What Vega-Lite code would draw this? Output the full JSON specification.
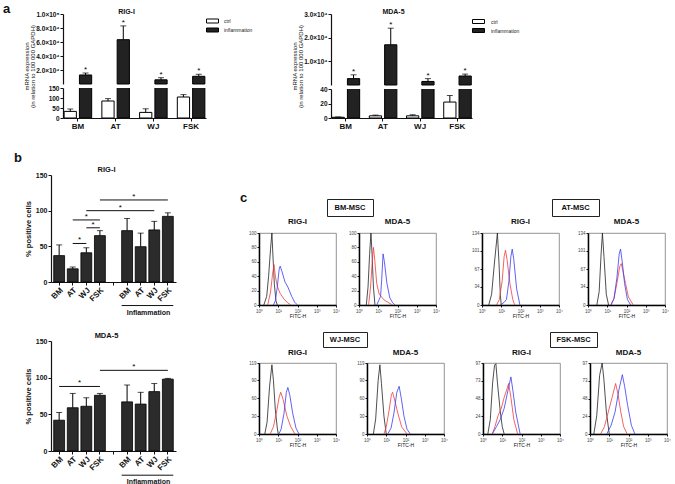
{
"$schema":"https://vega.github.io/schema/vega-lite/v6.json",
"padding":{"left":3,"top":3,"right":0,"bottom":0},
"config":{"font":"Liberation Sans","view":{"stroke":null},
 "axis":{"grid":false,"domainColor":"#111","tickColor":"#111","labelColor":"#111","titleColor":"#111","domainWidth":1.2,"tickWidth":1,"labelFont":"Liberation Sans","titleFont":"Liberation Sans"},
 "title":{"font":"Liberation Sans","fontSize":8,"fontWeight":"bold","color":"#111","baseline":"alphabetic"}},
"datasets":{
 "a_rig":[{"cell":"BM","t":"ctrl","v":33,"hi":45},{"cell":"AT","t":"ctrl","v":85,"hi":97},{"cell":"WJ","t":"ctrl","v":28,"hi":46},{"cell":"FSK","t":"ctrl","v":105,"hi":117},{"cell":"BM","t":"inflammation","v":12900,"hi":15700},{"cell":"AT","t":"inflammation","v":63300,"hi":83000},{"cell":"WJ","t":"inflammation","v":6000,"hi":9000},{"cell":"FSK","t":"inflammation","v":11000,"hi":13900}],
 "a_mda":[{"cell":"BM","t":"ctrl","v":1,"hi":1.5},{"cell":"AT","t":"ctrl","v":3,"hi":4},{"cell":"WJ","t":"ctrl","v":3,"hi":4.5},{"cell":"FSK","t":"ctrl","v":22,"hi":31},{"cell":"BM","t":"inflammation","v":2700,"hi":4300},{"cell":"AT","t":"inflammation","v":17000,"hi":24000},{"cell":"WJ","t":"inflammation","v":1500,"hi":2700},{"cell":"FSK","t":"inflammation","v":3800,"hi":4600}],
 "b_rig":[{"k":"BM","v":37,"hi":52},{"k":"AT","v":18.5,"hi":21},{"k":"WJ","v":41,"hi":48},{"k":"FSK","v":65,"hi":72},{"k":"iBM","v":72,"hi":89},{"k":"iAT","v":49.5,"hi":68.5},{"k":"iWJ","v":73,"hi":85},{"k":"iFSK","v":92,"hi":97}],
 "b_rig_sig":[{"a":"AT","b":"WJ","y":54,"m":"AT","h":true},{"a":"AT","b":"FSK","y":87,"m":"WJ","h":false},{"a":"WJ","b":"FSK","y":76,"m":"WJ","h":true},{"a":"WJ","b":"iWJ","y":100,"m":"gap","h":true},{"a":"FSK","b":"iFSK","y":115,"m":"iBM","h":true}],
 "b_mda":[{"k":"BM","v":42,"hi":52.5},{"k":"AT","v":59,"hi":78.5},{"k":"WJ","v":61,"hi":72.6},{"k":"FSK","v":76,"hi":78.5},{"k":"iBM","v":67,"hi":90},{"k":"iAT","v":64,"hi":80},{"k":"iWJ","v":81,"hi":92},{"k":"iFSK","v":98,"hi":99}],
 "b_mda_sig":[{"a":"BM","b":"FSK","y":88,"m":"AT","h":true},{"a":"FSK","b":"iFSK","y":110,"m":"iBM","h":true}],
 "infl_line":[{"a":"iBM","b":"iFSK"}],
 "boxes":[{"t":"BM-MSC"},{"t":"AT-MSC"},{"t":"WJ-MSC"},{"t":"FSK-MSC"}],
 "hist":[
{"c":"BM","g":"R","s":"iso","x":1.78,"y":0},{"c":"BM","g":"R","s":"iso","x":2.51,"y":12},{"c":"BM","g":"R","s":"iso","x":3.16,"y":40},{"c":"BM","g":"R","s":"iso","x":3.98,"y":78},{"c":"BM","g":"R","s":"iso","x":4.68,"y":100},{"c":"BM","g":"R","s":"iso","x":5.37,"y":65},{"c":"BM","g":"R","s":"iso","x":6.31,"y":28},{"c":"BM","g":"R","s":"iso","x":7.59,"y":6},{"c":"BM","g":"R","s":"iso","x":8.91,"y":0},
{"c":"BM","g":"R","s":"ctrl","x":2.82,"y":0},{"c":"BM","g":"R","s":"ctrl","x":3.98,"y":18},{"c":"BM","g":"R","s":"ctrl","x":5.01,"y":42},{"c":"BM","g":"R","s":"ctrl","x":6.03,"y":56},{"c":"BM","g":"R","s":"ctrl","x":7.08,"y":40},{"c":"BM","g":"R","s":"ctrl","x":8.91,"y":26},{"c":"BM","g":"R","s":"ctrl","x":12.6,"y":16},{"c":"BM","g":"R","s":"ctrl","x":20,"y":8},{"c":"BM","g":"R","s":"ctrl","x":31.6,"y":3},{"c":"BM","g":"R","s":"ctrl","x":44.7,"y":0},
{"c":"BM","g":"R","s":"infl","x":5.62,"y":0},{"c":"BM","g":"R","s":"infl","x":7.08,"y":6},{"c":"BM","g":"R","s":"infl","x":8.91,"y":25},{"c":"BM","g":"R","s":"infl","x":11.2,"y":50},{"c":"BM","g":"R","s":"infl","x":12.6,"y":54},{"c":"BM","g":"R","s":"infl","x":15.8,"y":46},{"c":"BM","g":"R","s":"infl","x":22.4,"y":32},{"c":"BM","g":"R","s":"infl","x":31.6,"y":25},{"c":"BM","g":"R","s":"infl","x":50.1,"y":12},{"c":"BM","g":"R","s":"infl","x":70.8,"y":4},{"c":"BM","g":"R","s":"infl","x":100,"y":0},
{"c":"BM","g":"M","s":"iso","x":2.4,"y":0},{"c":"BM","g":"M","s":"iso","x":2.95,"y":25},{"c":"BM","g":"M","s":"iso","x":3.55,"y":70},{"c":"BM","g":"M","s":"iso","x":4.17,"y":100},{"c":"BM","g":"M","s":"iso","x":4.79,"y":70},{"c":"BM","g":"M","s":"iso","x":5.62,"y":25},{"c":"BM","g":"M","s":"iso","x":6.76,"y":0},
{"c":"BM","g":"M","s":"ctrl","x":3.16,"y":0},{"c":"BM","g":"M","s":"ctrl","x":3.98,"y":25},{"c":"BM","g":"M","s":"ctrl","x":5.01,"y":65},{"c":"BM","g":"M","s":"ctrl","x":5.62,"y":80},{"c":"BM","g":"M","s":"ctrl","x":6.61,"y":62},{"c":"BM","g":"M","s":"ctrl","x":8.32,"y":30},{"c":"BM","g":"M","s":"ctrl","x":11.2,"y":15},{"c":"BM","g":"M","s":"ctrl","x":20,"y":7},{"c":"BM","g":"M","s":"ctrl","x":35.5,"y":3},{"c":"BM","g":"M","s":"ctrl","x":56.2,"y":0},
{"c":"BM","g":"M","s":"infl","x":8.32,"y":0},{"c":"BM","g":"M","s":"infl","x":10.5,"y":6},{"c":"BM","g":"M","s":"infl","x":13.2,"y":12},{"c":"BM","g":"M","s":"infl","x":15.1,"y":35},{"c":"BM","g":"M","s":"infl","x":17.8,"y":71},{"c":"BM","g":"M","s":"infl","x":20.9,"y":60},{"c":"BM","g":"M","s":"infl","x":28.2,"y":30},{"c":"BM","g":"M","s":"infl","x":39.8,"y":10},{"c":"BM","g":"M","s":"infl","x":56.2,"y":3},{"c":"BM","g":"M","s":"infl","x":75.9,"y":0},
{"c":"AT","g":"R","s":"iso","x":2.24,"y":0},{"c":"AT","g":"R","s":"iso","x":3.16,"y":20},{"c":"AT","g":"R","s":"iso","x":4.47,"y":80},{"c":"AT","g":"R","s":"iso","x":6.31,"y":134},{"c":"AT","g":"R","s":"iso","x":7.59,"y":80},{"c":"AT","g":"R","s":"iso","x":8.91,"y":20},{"c":"AT","g":"R","s":"iso","x":10,"y":0},
{"c":"AT","g":"R","s":"ctrl","x":5.62,"y":0},{"c":"AT","g":"R","s":"ctrl","x":7.94,"y":10},{"c":"AT","g":"R","s":"ctrl","x":11.2,"y":45},{"c":"AT","g":"R","s":"ctrl","x":14.1,"y":90},{"c":"AT","g":"R","s":"ctrl","x":16.6,"y":102},{"c":"AT","g":"R","s":"ctrl","x":20,"y":85},{"c":"AT","g":"R","s":"ctrl","x":28.2,"y":40},{"c":"AT","g":"R","s":"ctrl","x":39.8,"y":10},{"c":"AT","g":"R","s":"ctrl","x":50.1,"y":0},
{"c":"AT","g":"R","s":"infl","x":9.33,"y":0},{"c":"AT","g":"R","s":"infl","x":14.1,"y":5},{"c":"AT","g":"R","s":"infl","x":18.6,"y":10},{"c":"AT","g":"R","s":"infl","x":25.1,"y":45},{"c":"AT","g":"R","s":"infl","x":31.6,"y":90},{"c":"AT","g":"R","s":"infl","x":37.2,"y":104},{"c":"AT","g":"R","s":"infl","x":44.7,"y":85},{"c":"AT","g":"R","s":"infl","x":63.1,"y":30},{"c":"AT","g":"R","s":"infl","x":93.3,"y":0},
{"c":"AT","g":"M","s":"iso","x":2.88,"y":0},{"c":"AT","g":"M","s":"iso","x":3.8,"y":25},{"c":"AT","g":"M","s":"iso","x":4.79,"y":95},{"c":"AT","g":"M","s":"iso","x":5.62,"y":134},{"c":"AT","g":"M","s":"iso","x":6.76,"y":90},{"c":"AT","g":"M","s":"iso","x":8.91,"y":20},{"c":"AT","g":"M","s":"iso","x":11.7,"y":0},
{"c":"AT","g":"M","s":"ctrl","x":15.1,"y":0},{"c":"AT","g":"M","s":"ctrl","x":22.4,"y":12},{"c":"AT","g":"M","s":"ctrl","x":31.6,"y":40},{"c":"AT","g":"M","s":"ctrl","x":44.7,"y":72},{"c":"AT","g":"M","s":"ctrl","x":53.7,"y":77},{"c":"AT","g":"M","s":"ctrl","x":66.1,"y":62},{"c":"AT","g":"M","s":"ctrl","x":89.1,"y":40},{"c":"AT","g":"M","s":"ctrl","x":126,"y":15},{"c":"AT","g":"M","s":"ctrl","x":224,"y":0},
{"c":"AT","g":"M","s":"infl","x":15.8,"y":0},{"c":"AT","g":"M","s":"infl","x":22.4,"y":12},{"c":"AT","g":"M","s":"infl","x":31.6,"y":50},{"c":"AT","g":"M","s":"infl","x":41.7,"y":95},{"c":"AT","g":"M","s":"infl","x":49,"y":104},{"c":"AT","g":"M","s":"infl","x":60.3,"y":80},{"c":"AT","g":"M","s":"infl","x":79.4,"y":40},{"c":"AT","g":"M","s":"infl","x":112,"y":10},{"c":"AT","g":"M","s":"infl","x":166,"y":0},
{"c":"WJ","g":"R","s":"iso","x":2,"y":0},{"c":"WJ","g":"R","s":"iso","x":2.63,"y":20},{"c":"WJ","g":"R","s":"iso","x":3.55,"y":80},{"c":"WJ","g":"R","s":"iso","x":4.68,"y":116},{"c":"WJ","g":"R","s":"iso","x":5.62,"y":90},{"c":"WJ","g":"R","s":"iso","x":7.08,"y":40},{"c":"WJ","g":"R","s":"iso","x":8.91,"y":10},{"c":"WJ","g":"R","s":"iso","x":10,"y":0},
{"c":"WJ","g":"R","s":"ctrl","x":3.8,"y":0},{"c":"WJ","g":"R","s":"ctrl","x":5.62,"y":12},{"c":"WJ","g":"R","s":"ctrl","x":7.94,"y":35},{"c":"WJ","g":"R","s":"ctrl","x":11.2,"y":62},{"c":"WJ","g":"R","s":"ctrl","x":13.5,"y":70},{"c":"WJ","g":"R","s":"ctrl","x":17.8,"y":58},{"c":"WJ","g":"R","s":"ctrl","x":28.2,"y":30},{"c":"WJ","g":"R","s":"ctrl","x":44.7,"y":12},{"c":"WJ","g":"R","s":"ctrl","x":74.1,"y":0},
{"c":"WJ","g":"R","s":"infl","x":10.7,"y":0},{"c":"WJ","g":"R","s":"infl","x":14.1,"y":8},{"c":"WJ","g":"R","s":"infl","x":20,"y":35},{"c":"WJ","g":"R","s":"infl","x":26.3,"y":70},{"c":"WJ","g":"R","s":"infl","x":31.6,"y":78},{"c":"WJ","g":"R","s":"infl","x":39.8,"y":65},{"c":"WJ","g":"R","s":"infl","x":56.2,"y":35},{"c":"WJ","g":"R","s":"infl","x":83.2,"y":10},{"c":"WJ","g":"R","s":"infl","x":120,"y":0},
{"c":"WJ","g":"M","s":"iso","x":2.14,"y":0},{"c":"WJ","g":"M","s":"iso","x":2.82,"y":25},{"c":"WJ","g":"M","s":"iso","x":3.8,"y":90},{"c":"WJ","g":"M","s":"iso","x":4.68,"y":116},{"c":"WJ","g":"M","s":"iso","x":5.62,"y":85},{"c":"WJ","g":"M","s":"iso","x":7.59,"y":30},{"c":"WJ","g":"M","s":"iso","x":10,"y":0},
{"c":"WJ","g":"M","s":"ctrl","x":7.59,"y":0},{"c":"WJ","g":"M","s":"ctrl","x":10,"y":12},{"c":"WJ","g":"M","s":"ctrl","x":14.1,"y":40},{"c":"WJ","g":"M","s":"ctrl","x":18.6,"y":66},{"c":"WJ","g":"M","s":"ctrl","x":21.4,"y":70},{"c":"WJ","g":"M","s":"ctrl","x":28.2,"y":55},{"c":"WJ","g":"M","s":"ctrl","x":39.8,"y":35},{"c":"WJ","g":"M","s":"ctrl","x":63.1,"y":12},{"c":"WJ","g":"M","s":"ctrl","x":120,"y":0},
{"c":"WJ","g":"M","s":"infl","x":12,"y":0},{"c":"WJ","g":"M","s":"infl","x":17.8,"y":10},{"c":"WJ","g":"M","s":"infl","x":25.1,"y":35},{"c":"WJ","g":"M","s":"infl","x":35.5,"y":70},{"c":"WJ","g":"M","s":"infl","x":46.8,"y":80},{"c":"WJ","g":"M","s":"infl","x":60.3,"y":60},{"c":"WJ","g":"M","s":"infl","x":83.2,"y":30},{"c":"WJ","g":"M","s":"infl","x":120,"y":8},{"c":"WJ","g":"M","s":"infl","x":178,"y":0},
{"c":"FSK","g":"R","s":"iso","x":1.78,"y":0},{"c":"FSK","g":"R","s":"iso","x":2.4,"y":20},{"c":"FSK","g":"R","s":"iso","x":3.16,"y":70},{"c":"FSK","g":"R","s":"iso","x":3.98,"y":94},{"c":"FSK","g":"R","s":"iso","x":4.68,"y":96},{"c":"FSK","g":"R","s":"iso","x":5.62,"y":70},{"c":"FSK","g":"R","s":"iso","x":7.94,"y":30},{"c":"FSK","g":"R","s":"iso","x":10,"y":10},{"c":"FSK","g":"R","s":"iso","x":12.6,"y":0},
{"c":"FSK","g":"R","s":"ctrl","x":3.02,"y":0},{"c":"FSK","g":"R","s":"ctrl","x":4.17,"y":10},{"c":"FSK","g":"R","s":"ctrl","x":6.03,"y":25},{"c":"FSK","g":"R","s":"ctrl","x":8.91,"y":35},{"c":"FSK","g":"R","s":"ctrl","x":12.6,"y":50},{"c":"FSK","g":"R","s":"ctrl","x":17.8,"y":62},{"c":"FSK","g":"R","s":"ctrl","x":21.4,"y":69},{"c":"FSK","g":"R","s":"ctrl","x":28.2,"y":50},{"c":"FSK","g":"R","s":"ctrl","x":39.8,"y":20},{"c":"FSK","g":"R","s":"ctrl","x":63.1,"y":0},
{"c":"FSK","g":"R","s":"infl","x":3.02,"y":0},{"c":"FSK","g":"R","s":"infl","x":5.01,"y":10},{"c":"FSK","g":"R","s":"infl","x":7.94,"y":20},{"c":"FSK","g":"R","s":"infl","x":12.6,"y":35},{"c":"FSK","g":"R","s":"infl","x":20,"y":60},{"c":"FSK","g":"R","s":"infl","x":28.2,"y":78},{"c":"FSK","g":"R","s":"infl","x":35.5,"y":60},{"c":"FSK","g":"R","s":"infl","x":50.1,"y":30},{"c":"FSK","g":"R","s":"infl","x":85.1,"y":0},
{"c":"FSK","g":"M","s":"iso","x":1.58,"y":0},{"c":"FSK","g":"M","s":"iso","x":2.24,"y":25},{"c":"FSK","g":"M","s":"iso","x":3.16,"y":80},{"c":"FSK","g":"M","s":"iso","x":4.27,"y":97},{"c":"FSK","g":"M","s":"iso","x":5.25,"y":75},{"c":"FSK","g":"M","s":"iso","x":7.08,"y":30},{"c":"FSK","g":"M","s":"iso","x":10,"y":0},
{"c":"FSK","g":"M","s":"ctrl","x":3.55,"y":0},{"c":"FSK","g":"M","s":"ctrl","x":5.62,"y":10},{"c":"FSK","g":"M","s":"ctrl","x":8.91,"y":30},{"c":"FSK","g":"M","s":"ctrl","x":14.1,"y":50},{"c":"FSK","g":"M","s":"ctrl","x":21.4,"y":69},{"c":"FSK","g":"M","s":"ctrl","x":28.2,"y":55},{"c":"FSK","g":"M","s":"ctrl","x":39.8,"y":30},{"c":"FSK","g":"M","s":"ctrl","x":56.2,"y":10},{"c":"FSK","g":"M","s":"ctrl","x":85.1,"y":0},
{"c":"FSK","g":"M","s":"infl","x":7.41,"y":0},{"c":"FSK","g":"M","s":"infl","x":12.6,"y":12},{"c":"FSK","g":"M","s":"infl","x":20,"y":30},{"c":"FSK","g":"M","s":"infl","x":31.6,"y":60},{"c":"FSK","g":"M","s":"infl","x":47.9,"y":81},{"c":"FSK","g":"M","s":"infl","x":63.1,"y":65},{"c":"FSK","g":"M","s":"infl","x":89.1,"y":40},{"c":"FSK","g":"M","s":"infl","x":141,"y":12},{"c":"FSK","g":"M","s":"infl","x":214,"y":0}
 ]},
"spacing":21,
"vconcat":[
 {"hconcat":[
   {"width":10,"height":1,"data":{"values":[]},"mark":"point"},
   {"vconcat":[
     {"width":143,"height":70,"title":{"text":"RIG-I","fontSize":7,"offset":-4,"dx":-8},
      "data":{"name":"a_rig"},"transform":[{"filter":"datum.t == 'inflammation'"}],
      "resolve":{"axis":{"y":"independent"}},
      "encoding":{"x":{"field":"cell","type":"nominal","scale":{"domain":["BM","AT","WJ","FSK"],"paddingInner":0.27,"paddingOuter":0.03},"axis":null},
        "xOffset":{"field":"t","type":"nominal","scale":{"domain":["ctrl","inflammation"],"paddingInner":0.2}}},
      "layer":[
       {"mark":{"type":"bar","fill":"#222","stroke":"#000","strokeWidth":1},
        "encoding":{"y":{"field":"v","type":"quantitative","scale":{"domain":[0,100000],"nice":false},
          "axis":{"values":[20000,40000,60000,80000,100000],"labelExpr":"datum.value == 100000 ? '1.0×10⁵' : format(datum.value/10000, '.1f') + '×10⁴'","labelFontSize":6.5,"labelFontWeight":"bold","tickSize":3,"labelPadding":1,"labelOverlap":false,
            "title":["mRNA expression","(in relation to 100 000 GAPDH)"],"titleFontSize":6,"titleLineHeight":6.5,"titleFontWeight":"normal","titlePadding":0,"titleY":52}}}},
       {"mark":{"type":"rule","color":"#000"},"encoding":{"y":{"field":"v","type":"quantitative","axis":null},"y2":{"field":"hi"}}},
       {"mark":{"type":"tick","color":"#000","thickness":1,"size":6},"encoding":{"y":{"field":"hi","type":"quantitative","axis":null}}},
       {"mark":{"type":"text","text":"*","fontSize":8,"dy":-1,"baseline":"alphabetic"},"encoding":{"y":{"field":"hi","type":"quantitative","axis":null}}}
      ]},
     {"width":143,"height":30,"data":{"name":"a_rig"},
      "resolve":{"axis":{"y":"independent"}},
      "encoding":{"x":{"field":"cell","type":"nominal","scale":{"domain":["BM","AT","WJ","FSK"],"paddingInner":0.27,"paddingOuter":0.03},"axis":{"labelFontSize":8,"labelFontWeight":"bold","tickSize":3,"labelPadding":1,"title":null,"labelAngle":0}},
        "xOffset":{"field":"t","type":"nominal","scale":{"domain":["ctrl","inflammation"],"paddingInner":0.2}}},
      "layer":[
       {"mark":{"type":"bar","stroke":"#000","strokeWidth":1,"clip":true},
        "encoding":{"y":{"field":"v","type":"quantitative","scale":{"domain":[0,150],"nice":false},"axis":{"values":[0,50,100,150],"labelFontSize":6.5,"labelFontWeight":"bold","tickSize":3,"labelPadding":1,"labelOverlap":false,"title":null}},
         "fill":{"field":"t","type":"nominal","scale":{"domain":["ctrl","inflammation"],"range":["#ffffff","#222222"]},
          "legend":{"orient":"none","legendX":146.5,"legendY":-70,"title":null,"symbolType":"M-2.4,-0.8H2.4V0.8H-2.4Z","symbolSize":25,"symbolStrokeColor":"#000","symbolStrokeWidth":1,"labelFontSize":5,"labelOffset":8.5,"rowPadding":1,"padding":0,"labelColor":"#222"}}}},
       {"mark":{"type":"rule","color":"#000","clip":true},"encoding":{"y":{"field":"v","type":"quantitative","axis":null},"y2":{"field":"hi"}}},
       {"mark":{"type":"tick","color":"#000","thickness":1,"size":6,"clip":true},"encoding":{"y":{"field":"hi","type":"quantitative","axis":null}}}
      ]}
    ],"spacing":4,"bounds":"flush","resolve":{"scale":{"fill":"independent"},"legend":{"fill":"independent"}}},
   {"width":38,"height":1,"data":{"values":[]},"mark":"point"},
   {"vconcat":[
     {"width":141,"height":71,"title":{"text":"MDA-5","fontSize":7,"offset":-4,"dx":-8},
      "data":{"name":"a_mda"},"transform":[{"filter":"datum.t == 'inflammation'"}],
      "resolve":{"axis":{"y":"independent"}},
      "encoding":{"x":{"field":"cell","type":"nominal","scale":{"domain":["BM","AT","WJ","FSK"],"paddingInner":0.27,"paddingOuter":0.03},"axis":null},
        "xOffset":{"field":"t","type":"nominal","scale":{"domain":["ctrl","inflammation"],"paddingInner":0.2}}},
      "layer":[
       {"mark":{"type":"bar","fill":"#222","stroke":"#000","strokeWidth":1},
        "encoding":{"y":{"field":"v","type":"quantitative","scale":{"domain":[0,30000],"nice":false},
          "axis":{"values":[10000,20000,30000],"labelExpr":"format(datum.value/10000, '.1f') + '×10⁴'","labelFontSize":6.5,"labelFontWeight":"bold","tickSize":3,"labelPadding":1,"labelOverlap":false,
            "title":["mRNA expression","(in relation to 100 000 GAPDH)"],"titleFontSize":6,"titleLineHeight":6.5,"titleFontWeight":"normal","titlePadding":0,"titleY":52}}}},
       {"mark":{"type":"rule","color":"#000"},"encoding":{"y":{"field":"v","type":"quantitative","axis":null},"y2":{"field":"hi"}}},
       {"mark":{"type":"tick","color":"#000","thickness":1,"size":6},"encoding":{"y":{"field":"hi","type":"quantitative","axis":null}}},
       {"mark":{"type":"text","text":"*","fontSize":8,"dy":-1,"baseline":"alphabetic"},"encoding":{"y":{"field":"hi","type":"quantitative","axis":null}}}
      ]},
     {"width":141,"height":29,"data":{"name":"a_mda"},
      "resolve":{"axis":{"y":"independent"}},
      "encoding":{"x":{"field":"cell","type":"nominal","scale":{"domain":["BM","AT","WJ","FSK"],"paddingInner":0.27,"paddingOuter":0.03},"axis":{"labelFontSize":8,"labelFontWeight":"bold","tickSize":3,"labelPadding":1,"title":null,"labelAngle":0}},
        "xOffset":{"field":"t","type":"nominal","scale":{"domain":["ctrl","inflammation"],"paddingInner":0.2}}},
      "layer":[
       {"mark":{"type":"bar","stroke":"#000","strokeWidth":1,"clip":true},
        "encoding":{"y":{"field":"v","type":"quantitative","scale":{"domain":[0,40],"nice":false},"axis":{"values":[0,20,40],"labelFontSize":6.5,"labelFontWeight":"bold","tickSize":3,"labelPadding":1,"labelOverlap":false,"title":null}},
         "fill":{"field":"t","type":"nominal","scale":{"domain":["ctrl","inflammation"],"range":["#ffffff","#222222"]},
          "legend":{"orient":"none","legendX":144.5,"legendY":-70.5,"title":null,"symbolType":"M-2.4,-0.8H2.4V0.8H-2.4Z","symbolSize":25,"symbolStrokeColor":"#000","symbolStrokeWidth":1,"labelFontSize":5,"labelOffset":9.5,"rowPadding":1,"padding":0,"labelColor":"#222"}}}},
       {"mark":{"type":"rule","color":"#000","clip":true},"encoding":{"y":{"field":"v","type":"quantitative","axis":null},"y2":{"field":"hi"}}},
       {"mark":{"type":"tick","color":"#000","thickness":1,"size":6,"clip":true},"encoding":{"y":{"field":"hi","type":"quantitative","axis":null}}}
      ]}
    ],"spacing":4,"bounds":"flush","resolve":{"scale":{"fill":"independent"},"legend":{"fill":"independent"}}}
  ],"spacing":0,
  "title":{"text":"a","anchor":"start","frame":"group","dx":-10,"offset":-8,"fontSize":13}},
 {"hconcat":[
   {"width":1,"height":1,"data":{"values":[]},"mark":"point"},
   {"vconcat":[
     {"width":125,"height":107,"title":{"text":"RIG-I","fontSize":7.5,"offset":-2,"dx":-7},
      "resolve":{"axis":{"x":"independent","y":"independent"}},
      "layer":[
       {"data":{"name":"b_rig"},"mark":{"type":"bar","fill":"#2b2b2b","stroke":"#000","strokeWidth":0.8},
        "encoding":{"x":{"field":"k","type":"nominal","scale":{"domain":["BM","AT","WJ","FSK","gap","iBM","iAT","iWJ","iFSK"],"paddingInner":0.2,"paddingOuter":0.2},
           "axis":{"labelExpr":"datum.value == 'gap' ? '' : replace(datum.value, 'i', '')","labelAngle":-45,"labelFontSize":8,"labelFontWeight":"bold","tickSize":3,"labelPadding":1,"title":"Inflammation","titleFontSize":7,"titleFontWeight":"bold","titleX":97,"titleY":30,"titleBaseline":"middle"}},
         "y":{"field":"v","type":"quantitative","scale":{"domain":[0,150],"nice":false},"axis":{"values":[0,50,100,150],"labelFontSize":7,"labelFontWeight":"bold","tickSize":3,"labelPadding":1,"labelOverlap":false,"title":"% positive cells","titleFontSize":7.5,"titleFontWeight":"bold","titleX":-19,"titleBaseline":"bottom"}}}},
       {"data":{"name":"b_rig"},"mark":{"type":"rule","color":"#000"},"encoding":{"x":{"field":"k","type":"nominal","axis":null},"y":{"field":"v","type":"quantitative","axis":null},"y2":{"field":"hi"}}},
       {"data":{"name":"b_rig"},"mark":{"type":"tick","color":"#000","thickness":1,"size":6},"encoding":{"x":{"field":"k","type":"nominal","axis":null},"y":{"field":"hi","type":"quantitative","axis":null}}},
       {"data":{"name":"b_rig_sig"},"mark":{"type":"rule","color":"#111","strokeWidth":1},"encoding":{"x":{"field":"a","type":"nominal","axis":null},"x2":{"field":"b"},"y":{"field":"y","type":"quantitative","axis":null}}},
       {"data":{"name":"b_rig_sig"},"transform":[{"filter":"datum.h"}],"mark":{"type":"text","text":"*","fontSize":8,"dy":-1,"baseline":"alphabetic"},"encoding":{"x":{"field":"m","type":"nominal","bandPosition":1.125,"axis":null},"y":{"field":"y","type":"quantitative","axis":null}}},
       {"data":{"name":"b_rig_sig"},"transform":[{"filter":"!datum.h"}],"mark":{"type":"text","text":"*","fontSize":8,"dy":-1,"baseline":"alphabetic"},"encoding":{"x":{"field":"m","type":"nominal","axis":null},"y":{"field":"y","type":"quantitative","axis":null}}},
       {"data":{"name":"infl_line"},"mark":{"type":"rule","color":"#111","strokeWidth":1,"clip":false},"encoding":{"x":{"field":"a","type":"nominal","bandPosition":0,"axis":null},"x2":{"field":"b","bandPosition":1},"y":{"datum":-33,"type":"quantitative","axis":null}}}
      ]},
     {"width":125,"height":110,"title":{"text":"MDA-5","fontSize":7.5,"offset":-2,"dx":-7},
      "resolve":{"axis":{"x":"independent","y":"independent"}},
      "layer":[
       {"data":{"name":"b_mda"},"mark":{"type":"bar","fill":"#2b2b2b","stroke":"#000","strokeWidth":0.8},
        "encoding":{"x":{"field":"k","type":"nominal","scale":{"domain":["BM","AT","WJ","FSK","gap","iBM","iAT","iWJ","iFSK"],"paddingInner":0.2,"paddingOuter":0.2},
           "axis":{"labelExpr":"datum.value == 'gap' ? '' : replace(datum.value, 'i', '')","labelAngle":-45,"labelFontSize":8,"labelFontWeight":"bold","tickSize":3,"labelPadding":1,"title":"Inflammation","titleFontSize":7,"titleFontWeight":"bold","titleX":97,"titleY":30,"titleBaseline":"middle"}},
         "y":{"field":"v","type":"quantitative","scale":{"domain":[0,150],"nice":false},"axis":{"values":[0,50,100,150],"labelFontSize":7,"labelFontWeight":"bold","tickSize":3,"labelPadding":1,"labelOverlap":false,"title":"% positive cells","titleFontSize":7.5,"titleFontWeight":"bold","titleX":-19,"titleBaseline":"bottom"}}}},
       {"data":{"name":"b_mda"},"mark":{"type":"rule","color":"#000"},"encoding":{"x":{"field":"k","type":"nominal","axis":null},"y":{"field":"v","type":"quantitative","axis":null},"y2":{"field":"hi"}}},
       {"data":{"name":"b_mda"},"mark":{"type":"tick","color":"#000","thickness":1,"size":6},"encoding":{"x":{"field":"k","type":"nominal","axis":null},"y":{"field":"hi","type":"quantitative","axis":null}}},
       {"data":{"name":"b_mda_sig"},"mark":{"type":"rule","color":"#111","strokeWidth":1},"encoding":{"x":{"field":"a","type":"nominal","axis":null},"x2":{"field":"b"},"y":{"field":"y","type":"quantitative","axis":null}}},
       {"data":{"name":"b_mda_sig"},"transform":[{"filter":"datum.h"}],"mark":{"type":"text","text":"*","fontSize":8,"dy":-1,"baseline":"alphabetic"},"encoding":{"x":{"field":"m","type":"nominal","bandPosition":1.125,"axis":null},"y":{"field":"y","type":"quantitative","axis":null}}},
       {"data":{"name":"infl_line"},"mark":{"type":"rule","color":"#111","strokeWidth":1,"clip":false},"encoding":{"x":{"field":"a","type":"nominal","bandPosition":0,"axis":null},"x2":{"field":"b","bandPosition":1},"y":{"datum":-33,"type":"quantitative","axis":null}}}
      ]}
    ],"spacing":59,"bounds":"flush",
    "title":{"text":"b","anchor":"start","frame":"group","dx":-37,"offset":1,"fontSize":13}},
   {"width":64,"height":1,"data":{"values":[]},"mark":"point"},
   {"vconcat":[
     {"width":1,"height":23,"data":{"values":[]},"mark":"point"},
     {"hconcat":[
       {"width":68,"height":17,"data":{"values":[]},"mark":"point"},
       {"width":46,"height":17,"view":{"stroke":"#222","strokeWidth":1},"data":{"name":"boxes"},"transform":[{"filter":"datum.t == 'BM-MSC'"}],"mark":{"type":"text","fontSize":7.5,"fontWeight":"bold","color":"#111"},"encoding":{"text":{"field":"t"}}},
       {"width":179,"height":17,"data":{"values":[]},"mark":"point"},
       {"width":47,"height":17,"view":{"stroke":"#222","strokeWidth":1},"data":{"name":"boxes"},"transform":[{"filter":"datum.t == 'AT-MSC'"}],"mark":{"type":"text","fontSize":7.5,"fontWeight":"bold","color":"#111"},"encoding":{"text":{"field":"t"}}}
      ],"spacing":0,"bounds":"flush"},
     {"hconcat":[
       {"hconcat":[
         {"width":77,"height":72,"view":{"stroke":"#777","strokeWidth":0.8},"title":{"text":"RIG-I","offset":4},"data":{"name":"hist"},"transform":[{"filter":"datum.c == 'BM' && datum.g == 'R'"}],"mark":{"type":"line","strokeWidth":0.8,"clip":true},
          "encoding":{"x":{"field":"x","type":"quantitative","scale":{"type":"log","domain":[1,10000]},"axis":{"values":[1,10,100,1000,10000],"labelExpr":"'10' + ['⁰','¹','²','³','⁴'][round(log(datum.value)/LN10)]","labelFontSize":4.5,"labelColor":"#444","tickSize":2,"labelPadding":1,"domainWidth":1.5,"domainColor":"#000","title":"FITC-H","titleFontSize":5,"titleFontWeight":"normal","titlePadding":1,"labelFlush":false,"labelOverlap":false}},
           "y":{"field":"y","type":"quantitative","scale":{"domain":[0,100],"nice":false},"axis":{"values":[0,20,40,60,80,100],"labelFontSize":4.5,"labelColor":"#444","tickSize":2,"labelPadding":1,"domainWidth":1.5,"domainColor":"#000","title":null,"labelOverlap":false}},
           "stroke":{"field":"s","type":"nominal","scale":{"domain":["iso","ctrl","infl"],"range":["#222222","#f23b3b","#3b3bf2"]},"legend":null}}},
         {"width":77,"height":72,"view":{"stroke":"#777","strokeWidth":0.8},"title":{"text":"MDA-5","offset":4},"data":{"name":"hist"},"transform":[{"filter":"datum.c == 'BM' && datum.g == 'M'"}],"mark":{"type":"line","strokeWidth":0.8,"clip":true},
          "encoding":{"x":{"field":"x","type":"quantitative","scale":{"type":"log","domain":[1,10000]},"axis":{"values":[1,10,100,1000,10000],"labelExpr":"'10' + ['⁰','¹','²','³','⁴'][round(log(datum.value)/LN10)]","labelFontSize":4.5,"labelColor":"#444","tickSize":2,"labelPadding":1,"domainWidth":1.5,"domainColor":"#000","title":"FITC-H","titleFontSize":5,"titleFontWeight":"normal","titlePadding":1,"labelFlush":false,"labelOverlap":false}},
           "y":{"field":"y","type":"quantitative","scale":{"domain":[0,100],"nice":false},"axis":{"values":[0,20,40,60,80,100],"labelFontSize":4.5,"labelColor":"#444","tickSize":2,"labelPadding":1,"domainWidth":1.5,"domainColor":"#000","title":null,"labelOverlap":false}},
           "stroke":{"field":"s","type":"nominal","scale":{"domain":["iso","ctrl","infl"],"range":["#222222","#f23b3b","#3b3bf2"]},"legend":null}}}
        ],"spacing":23,"bounds":"flush"},
       {"hconcat":[
         {"width":77,"height":72,"view":{"stroke":"#777","strokeWidth":0.8},"title":{"text":"RIG-I","offset":4},"data":{"name":"hist"},"transform":[{"filter":"datum.c == 'AT' && datum.g == 'R'"}],"mark":{"type":"line","strokeWidth":0.8,"clip":true},
          "encoding":{"x":{"field":"x","type":"quantitative","scale":{"type":"log","domain":[1,10000]},"axis":{"values":[1,10,100,1000,10000],"labelExpr":"'10' + ['⁰','¹','²','³','⁴'][round(log(datum.value)/LN10)]","labelFontSize":4.5,"labelColor":"#444","tickSize":2,"labelPadding":1,"domainWidth":1.5,"domainColor":"#000","title":"FITC-H","titleFontSize":5,"titleFontWeight":"normal","titlePadding":1,"labelFlush":false,"labelOverlap":false}},
           "y":{"field":"y","type":"quantitative","scale":{"domain":[0,134],"nice":false},"axis":{"values":[0,34,67,101,134],"labelFontSize":4.5,"labelColor":"#444","tickSize":2,"labelPadding":1,"domainWidth":1.5,"domainColor":"#000","title":null,"labelOverlap":false}},
           "stroke":{"field":"s","type":"nominal","scale":{"domain":["iso","ctrl","infl"],"range":["#222222","#f23b3b","#3b3bf2"]},"legend":null}}},
         {"width":77,"height":72,"view":{"stroke":"#777","strokeWidth":0.8},"title":{"text":"MDA-5","offset":4},"data":{"name":"hist"},"transform":[{"filter":"datum.c == 'AT' && datum.g == 'M'"}],"mark":{"type":"line","strokeWidth":0.8,"clip":true},
          "encoding":{"x":{"field":"x","type":"quantitative","scale":{"type":"log","domain":[1,10000]},"axis":{"values":[1,10,100,1000,10000],"labelExpr":"'10' + ['⁰','¹','²','³','⁴'][round(log(datum.value)/LN10)]","labelFontSize":4.5,"labelColor":"#444","tickSize":2,"labelPadding":1,"domainWidth":1.5,"domainColor":"#000","title":"FITC-H","titleFontSize":5,"titleFontWeight":"normal","titlePadding":1,"labelFlush":false,"labelOverlap":false}},
           "y":{"field":"y","type":"quantitative","scale":{"domain":[0,134],"nice":false},"axis":{"values":[0,34,67,101,134],"labelFontSize":4.5,"labelColor":"#444","tickSize":2,"labelPadding":1,"domainWidth":1.5,"domainColor":"#000","title":null,"labelOverlap":false}},
           "stroke":{"field":"s","type":"nominal","scale":{"domain":["iso","ctrl","infl"],"range":["#222222","#f23b3b","#3b3bf2"]},"legend":null}}}
        ],"spacing":29,"bounds":"flush"}
      ],"spacing":31},
     {"width":1,"height":12,"data":{"values":[]},"mark":"point"},
     {"hconcat":[
       {"width":64,"height":15,"data":{"values":[]},"mark":"point"},
       {"width":44,"height":15,"view":{"stroke":"#222","strokeWidth":1},"data":{"name":"boxes"},"transform":[{"filter":"datum.t == 'WJ-MSC'"}],"mark":{"type":"text","fontSize":7.5,"fontWeight":"bold","color":"#111"},"encoding":{"text":{"field":"t"}}},
       {"width":183,"height":15,"data":{"values":[]},"mark":"point"},
       {"width":47,"height":15,"view":{"stroke":"#222","strokeWidth":1},"data":{"name":"boxes"},"transform":[{"filter":"datum.t == 'FSK-MSC'"}],"mark":{"type":"text","fontSize":7.5,"fontWeight":"bold","color":"#111"},"encoding":{"text":{"field":"t"}}}
      ],"spacing":0,"bounds":"flush"},
     {"hconcat":[
       {"hconcat":[
         {"width":77,"height":71,"view":{"stroke":"#777","strokeWidth":0.8},"title":{"text":"RIG-I","offset":3},"data":{"name":"hist"},"transform":[{"filter":"datum.c == 'WJ' && datum.g == 'R'"}],"mark":{"type":"line","strokeWidth":0.8,"clip":true},
          "encoding":{"x":{"field":"x","type":"quantitative","scale":{"type":"log","domain":[1,10000]},"axis":{"values":[1,10,100,1000,10000],"labelExpr":"'10' + ['⁰','¹','²','³','⁴'][round(log(datum.value)/LN10)]","labelFontSize":4.5,"labelColor":"#444","tickSize":2,"labelPadding":1,"domainWidth":1.5,"domainColor":"#000","title":"FITC-H","titleFontSize":5,"titleFontWeight":"normal","titlePadding":1,"labelFlush":false,"labelOverlap":false}},
           "y":{"field":"y","type":"quantitative","scale":{"domain":[0,119],"nice":false},"axis":{"values":[0,30,60,90,119],"labelFontSize":4.5,"labelColor":"#444","tickSize":2,"labelPadding":1,"domainWidth":1.5,"domainColor":"#000","title":null,"labelOverlap":false}},
           "stroke":{"field":"s","type":"nominal","scale":{"domain":["iso","ctrl","infl"],"range":["#222222","#f23b3b","#3b3bf2"]},"legend":null}}},
         {"width":77,"height":71,"view":{"stroke":"#777","strokeWidth":0.8},"title":{"text":"MDA-5","offset":3},"data":{"name":"hist"},"transform":[{"filter":"datum.c == 'WJ' && datum.g == 'M'"}],"mark":{"type":"line","strokeWidth":0.8,"clip":true},
          "encoding":{"x":{"field":"x","type":"quantitative","scale":{"type":"log","domain":[1,10000]},"axis":{"values":[1,10,100,1000,10000],"labelExpr":"'10' + ['⁰','¹','²','³','⁴'][round(log(datum.value)/LN10)]","labelFontSize":4.5,"labelColor":"#444","tickSize":2,"labelPadding":1,"domainWidth":1.5,"domainColor":"#000","title":"FITC-H","titleFontSize":5,"titleFontWeight":"normal","titlePadding":1,"labelFlush":false,"labelOverlap":false}},
           "y":{"field":"y","type":"quantitative","scale":{"domain":[0,119],"nice":false},"axis":{"values":[0,30,60,90,119],"labelFontSize":4.5,"labelColor":"#444","tickSize":2,"labelPadding":1,"domainWidth":1.5,"domainColor":"#000","title":null,"labelOverlap":false}},
           "stroke":{"field":"s","type":"nominal","scale":{"domain":["iso","ctrl","infl"],"range":["#222222","#f23b3b","#3b3bf2"]},"legend":null}}}
        ],"spacing":31,"bounds":"flush"},
       {"hconcat":[
         {"width":77,"height":71,"view":{"stroke":"#777","strokeWidth":0.8},"title":{"text":"RIG-I","offset":3},"data":{"name":"hist"},"transform":[{"filter":"datum.c == 'FSK' && datum.g == 'R'"}],"mark":{"type":"line","strokeWidth":0.8,"clip":true},
          "encoding":{"x":{"field":"x","type":"quantitative","scale":{"type":"log","domain":[1,10000]},"axis":{"values":[1,10,100,1000,10000],"labelExpr":"'10' + ['⁰','¹','²','³','⁴'][round(log(datum.value)/LN10)]","labelFontSize":4.5,"labelColor":"#444","tickSize":2,"labelPadding":1,"domainWidth":1.5,"domainColor":"#000","title":"FITC-H","titleFontSize":5,"titleFontWeight":"normal","titlePadding":1,"labelFlush":false,"labelOverlap":false}},
           "y":{"field":"y","type":"quantitative","scale":{"domain":[0,97],"nice":false},"axis":{"values":[0,24,48,73,97],"labelFontSize":4.5,"labelColor":"#444","tickSize":2,"labelPadding":1,"domainWidth":1.5,"domainColor":"#000","title":null,"labelOverlap":false}},
           "stroke":{"field":"s","type":"nominal","scale":{"domain":["iso","ctrl","infl"],"range":["#222222","#f23b3b","#3b3bf2"]},"legend":null}}},
         {"width":77,"height":71,"view":{"stroke":"#777","strokeWidth":0.8},"title":{"text":"MDA-5","offset":3},"data":{"name":"hist"},"transform":[{"filter":"datum.c == 'FSK' && datum.g == 'M'"}],"mark":{"type":"line","strokeWidth":0.8,"clip":true},
          "encoding":{"x":{"field":"x","type":"quantitative","scale":{"type":"log","domain":[1,10000]},"axis":{"values":[1,10,100,1000,10000],"labelExpr":"'10' + ['⁰','¹','²','³','⁴'][round(log(datum.value)/LN10)]","labelFontSize":4.5,"labelColor":"#444","tickSize":2,"labelPadding":1,"domainWidth":1.5,"domainColor":"#000","title":"FITC-H","titleFontSize":5,"titleFontWeight":"normal","titlePadding":1,"labelFlush":false,"labelOverlap":false}},
           "y":{"field":"y","type":"quantitative","scale":{"domain":[0,97],"nice":false},"axis":{"values":[0,24,48,73,97],"labelFontSize":4.5,"labelColor":"#444","tickSize":2,"labelPadding":1,"domainWidth":1.5,"domainColor":"#000","title":null,"labelOverlap":false}},
           "stroke":{"field":"s","type":"nominal","scale":{"domain":["iso","ctrl","infl"],"range":["#222222","#f23b3b","#3b3bf2"]},"legend":null}}}
        ],"spacing":30,"bounds":"flush"}
      ],"spacing":26}
    ],"spacing":0,
    "title":{"text":"c","anchor":"start","frame":"group","dx":-19,"offset":-30,"fontSize":13}}
  ],"spacing":0}
]
}
